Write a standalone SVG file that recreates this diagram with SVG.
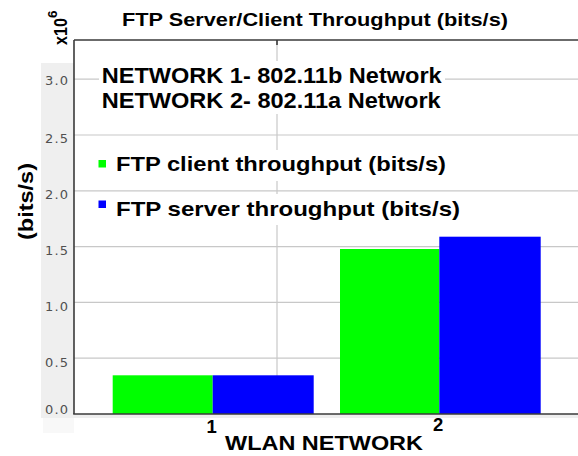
<svg xmlns="http://www.w3.org/2000/svg" width="578" height="456" viewBox="0 0 578 456">
<style>
.b{font-family:"Liberation Sans",Arial,sans-serif;font-weight:bold;fill:#000}
.tk{font-family:"DejaVu Sans",sans-serif;font-size:13px;fill:#505050}
.grid{stroke:#c8c8c8;stroke-width:1.2;fill:none}
.ax{stroke:#3a3a3a;stroke-width:1.6;fill:none}
.bg{fill:#fff}
</style>
<rect width="578" height="456" fill="#fff"/>
<g id="panel">
<rect x="41" y="63" width="33" height="355" fill="#efefef"/>
<rect x="43" y="418" width="31" height="15" fill="#f8f8f8"/>
<rect x="74" y="414" width="504" height="4" fill="#eeeeee"/>
</g>
<g id="grid">
<line class="grid" x1="74" y1="79.2" x2="578" y2="79.2"/>
<line class="grid" x1="74" y1="135" x2="578" y2="135"/>
<line class="grid" x1="74" y1="190.8" x2="578" y2="190.8"/>
<line class="grid" x1="74" y1="246.6" x2="578" y2="246.6"/>
<line class="grid" x1="74" y1="302.4" x2="578" y2="302.4"/>
<line class="grid" x1="74" y1="358.2" x2="578" y2="358.2"/>
<line class="grid" x1="277" y1="40" x2="277" y2="414"/>
</g>
<g id="yticks">
<text class="tk" x="45" y="85" textLength="23">3.0</text>
<text class="tk" x="45" y="143" textLength="23">2.5</text>
<text class="tk" x="45" y="199" textLength="23">2.0</text>
<text class="tk" x="45" y="255" textLength="23">1.5</text>
<text class="tk" x="45" y="311" textLength="23">1.0</text>
<text class="tk" x="45" y="367" textLength="23">0.5</text>
<text class="tk" x="45" y="414" textLength="23">0.0</text>
</g>
<g id="networks">
<rect class="bg" x="99" y="61" width="346" height="27"/>
<rect class="bg" x="99" y="88" width="346" height="26"/>
<text class="b" x="101.7" y="82.7" font-size="21.5" textLength="340" lengthAdjust="spacingAndGlyphs">NETWORK 1- 802.11b Network</text>
<text class="b" x="101.7" y="108.3" font-size="21.5" textLength="339" lengthAdjust="spacingAndGlyphs">NETWORK 2- 802.11a Network</text>
</g>
<g id="legend">
<rect class="bg" x="96" y="150" width="354" height="31"/>
<rect class="bg" x="96" y="194" width="368" height="31"/>
<rect x="98.5" y="160" width="7.5" height="7.5" fill="#00ff00"/>
<text class="b" x="116" y="171" font-size="21" textLength="330" lengthAdjust="spacingAndGlyphs">FTP client throughput (bits/s)</text>
<rect x="98.5" y="200.5" width="7.5" height="7.5" fill="#0000ff"/>
<text class="b" x="116" y="215.5" font-size="21" textLength="344" lengthAdjust="spacingAndGlyphs">FTP server throughput (bits/s)</text>
</g>
<g id="bars">
<rect id="bar1-client" x="112.7" y="375.3" width="100" height="38.7" fill="#00ff00"/>
<rect id="bar1-server" x="212.7" y="375.3" width="101" height="38.7" fill="#0000ff"/>
<rect id="bar2-client" x="340" y="249" width="99.3" height="165" fill="#00ff00"/>
<rect id="bar2-server" x="439.3" y="236.7" width="101.4" height="177.3" fill="#0000ff"/>
</g>
<g id="axes">
<line class="ax" x1="74" y1="40" x2="578" y2="40"/>
<line class="ax" x1="74" y1="40" x2="74" y2="414"/>
<line class="ax" x1="73.2" y1="414" x2="578" y2="414"/>
<line class="ax" x1="277" y1="40" x2="277" y2="45"/>
</g>
<g id="labels">
<text class="b" x="122" y="26" font-size="18.5" textLength="386" lengthAdjust="spacingAndGlyphs">FTP Server/Client Throughput (bits/s)</text>
<text class="b" transform="translate(66.7,45) rotate(-90)" font-size="19" textLength="27" lengthAdjust="spacingAndGlyphs">x10</text>
<text class="b" transform="translate(57,18) rotate(-90)" font-size="13.5">6</text>
<text class="b" transform="translate(33.3,240) rotate(-90)" font-size="21" textLength="77" lengthAdjust="spacingAndGlyphs">(bits/s)</text>
<text class="b" x="206.5" y="433.3" font-size="18.5">1</text>
<text class="b" x="433" y="431" font-size="18.5">2</text>
<text class="b" x="225" y="450" font-size="21" textLength="198" lengthAdjust="spacingAndGlyphs">WLAN NETWORK</text>
</g>
</svg>
